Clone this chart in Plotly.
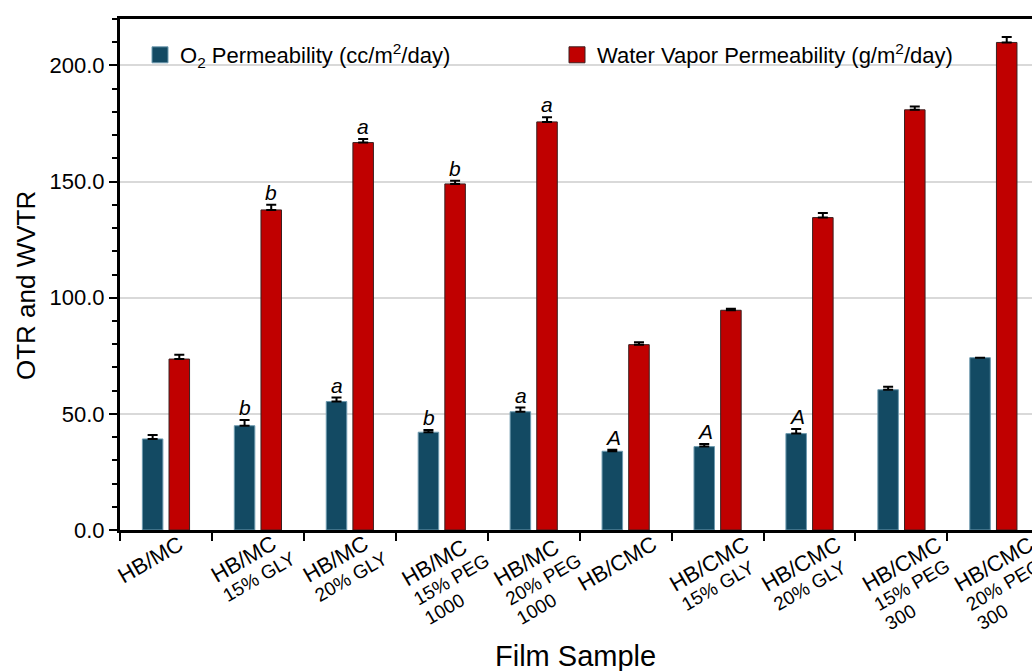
import math
import plotly.graph_objects as go

categories = ["HB/MC", "HB/MC 15% GLY", "HB/MC 20% GLY", "HB/MC 15% PEG 1000",
              "HB/MC 20% PEG 1000", "HB/CMC", "HB/CMC 15% GLY", "HB/CMC 20% GLY",
              "HB/CMC 15% PEG 300", "HB/CMC 20% PEG 300"]
label_main = ["HB/MC"] * 5 + ["HB/CMC"] * 5
label_sub = [[], ["15% GLY"], ["20% GLY"], ["15% PEG", "1000"], ["20% PEG", "1000"],
             [], ["15% GLY"], ["20% GLY"], ["15% PEG", "300"], ["20% PEG", "300"]]

o2 = [39.2, 44.9, 55.3, 42.1, 50.9, 33.9, 35.9, 41.5, 60.4, 74.2]
o2_err = [1.7, 2.5, 1.7, 1.0, 1.8, 0.7, 1.1, 2.0, 1.3, None]
wv = [73.6, 137.8, 166.8, 149.0, 175.7, 79.8, 94.6, 134.5, 180.9, 209.9]
wv_err = [1.8, 2.2, 1.5, 1.4, 2.0, 1.0, 0.7, 2.0, 1.4, 2.3]
o2_letters = ["", "b", "a", "b", "a", "A", "A", "A", "", ""]
wv_letters = ["", "b", "a", "b", "a", "", "", "", "", ""]

O2_NAME = "O<sub>2</sub> Permeability (cc/m<sup>2</sup>/day)"
WV_NAME = "Water Vapor Permeability (g/m<sup>2</sup>/day)"

BLUE = "#134a63"
BLUE_EDGE = "#6f9bb0"
RED = "#c00000"
RED_EDGE = "#3a2020"
FONT = "Arial, Liberation Sans, sans-serif"

L, T, W, H = 120, 19, 912, 511

fig = go.Figure()
fig.add_trace(go.Bar(
    x=categories, y=o2, name=O2_NAME, legendgroup="o2", showlegend=False,
    marker=dict(color=BLUE, line=dict(color=BLUE_EDGE, width=1)),
    error_y=dict(type="data", array=o2_err, arrayminus=[0] * len(o2), symmetric=False,
                 color="black", thickness=2, width=5),
))
fig.add_trace(go.Bar(
    x=categories, y=wv, name=WV_NAME, legendgroup="wv", showlegend=False,
    marker=dict(color=RED, line=dict(color=RED_EDGE, width=1)),
    error_y=dict(type="data", array=wv_err, arrayminus=[0] * len(wv), symmetric=False,
                 color="black", thickness=2, width=5),
))
# legend entries with larger square swatches
fig.add_trace(go.Scatter(x=[None], y=[None], mode="markers", name=O2_NAME, legendgroup="o2",
                         marker=dict(symbol="square", size=16, color=BLUE, line=dict(color=BLUE_EDGE, width=1)),
                         legend="legend"))
fig.add_trace(go.Scatter(x=[None], y=[None], mode="markers", name=WV_NAME, legendgroup="wv",
                         marker=dict(symbol="square", size=16, color=RED, line=dict(color=RED_EDGE, width=1)),
                         legend="legend2"))

annotations = []
# significance letters above error bars
for i, c in enumerate(categories):
    for vals, errs, letters, shift in ((o2, o2_err, o2_letters, -13), (wv, wv_err, wv_letters, 13)):
        if letters[i]:
            annotations.append(dict(
                x=c, y=vals[i] + (errs[i] or 0), xref="x", yref="y", text=f"<i>{letters[i]}</i>",
                showarrow=False, xshift=shift, yanchor="bottom", yshift=-1,
                font=dict(size=21, color="black", family=FONT)))

# rotated, left-aligned category labels (Arial advance widths in em)
EM = {"H": .722, "B": .667, "/": .278, "M": .833, "C": .722, "%": .889, " ": .278,
      "G": .778, "L": .556, "Y": .667, "P": .667, "E": .667}
def text_w(s, size):
    return sum(EM.get(ch, .556) for ch in s) * size

MAIN_SIZE, SUB_SIZE, BASE_SIZE = 22, 19, 17
ANG = math.radians(30)
along = (math.cos(ANG), -math.sin(ANG))
perp = (math.sin(ANG), math.cos(ANG))
for i, c in enumerate(categories):
    lines = [(label_main[i], MAIN_SIZE)] + [(s, SUB_SIZE) for s in label_sub[i]]
    n = len(lines)
    maxw = max(text_w(s, z) for s, z in lines)
    sx = -42 + (8 if n == 3 else 0)
    sy = 54 + (8 if label_main[i] == "HB/CMC" else (3 if n == 3 else 0))
    last_size = lines[-1][1]
    d = ((n - 1) * 1.3 * BASE_SIZE + 0.212 * last_size - 0.905 * MAIN_SIZE) / 2
    cx = sx + along[0] * maxw / 2 + perp[0] * d
    cy = sy + along[1] * maxw / 2 + perp[1] * d
    txt = "<br>".join(f"<span style='font-size:{z}px'>{s}</span>" for s, z in lines)
    annotations.append(dict(
        x=c, y=0, xref="x", yref="paper", text=txt, showarrow=False, align="left",
        textangle=-30, xanchor="center", yanchor="middle", xshift=cx, yshift=-cy,
        font=dict(size=BASE_SIZE, color="black", family=FONT)))

annotations.append(dict(x=(26 - L) / W, y=1 - (286 - T) / H, xref="paper", yref="paper",
                        xanchor="center", yanchor="middle", text="OTR and WVTR",
                        showarrow=False, textangle=-90, font=dict(size=26, color="black", family=FONT)))
annotations.append(dict(x=(575 - L) / W, y=1 - (656 - T) / H, xref="paper", yref="paper",
                        xanchor="center", yanchor="middle", text="Film Sample",
                        showarrow=False, font=dict(size=29, color="black", family=FONT)))

fig.update_layout(
    width=1032, height=671,
    margin=dict(l=L, r=1032 - L - W, t=T, b=671 - T - H, pad=0, autoexpand=False),
    paper_bgcolor="white", plot_bgcolor="white",
    font=dict(family=FONT, size=17, color="black"),
    barmode="group", bargap=0.42, bargroupgap=0.23,
    legend=dict(orientation="h", x=(140 - L) / W, y=1 - (55 - T) / H, xanchor="left", yanchor="middle",
                font=dict(size=22, family=FONT), bgcolor="rgba(0,0,0,0)", itemsizing="trace"),
    legend2=dict(orientation="h", x=(557 - L) / W, y=1 - (55 - T) / H, xanchor="left", yanchor="middle",
                 font=dict(size=22, family=FONT), bgcolor="rgba(0,0,0,0)", itemsizing="trace"),
    annotations=annotations,
)
fig.update_xaxes(
    type="category", categoryorder="array", categoryarray=categories,
    showticklabels=False,
    tickson="boundaries", ticks="outside", ticklen=8, tickwidth=2, tickcolor="black",
    automargin=False,
    showline=True, linecolor="black", linewidth=3, mirror=True,
    showgrid=False, range=[-0.5, 9.42],
)
fig.update_yaxes(
    range=[0, 220], tickmode="linear", tick0=0, dtick=50, tickformat=".1f",
    ticks="outside", ticklen=8, tickwidth=2, tickcolor="black", automargin=False,
    minor=dict(tickmode="linear", dtick=10, ticks="outside", ticklen=5, tickwidth=2, tickcolor="black", showgrid=False),
    showline=True, linecolor="black", linewidth=3, mirror=False,
    showgrid=True, gridcolor="#d9d9d9", gridwidth=1.5, zeroline=False,
    tickfont=dict(size=22, family=FONT, color="black"),
)

fig.write_html("out.html", config={"displayModeBar": False},
               post_script="document.body.style.margin='0px';document.body.style.overflow='hidden';")
